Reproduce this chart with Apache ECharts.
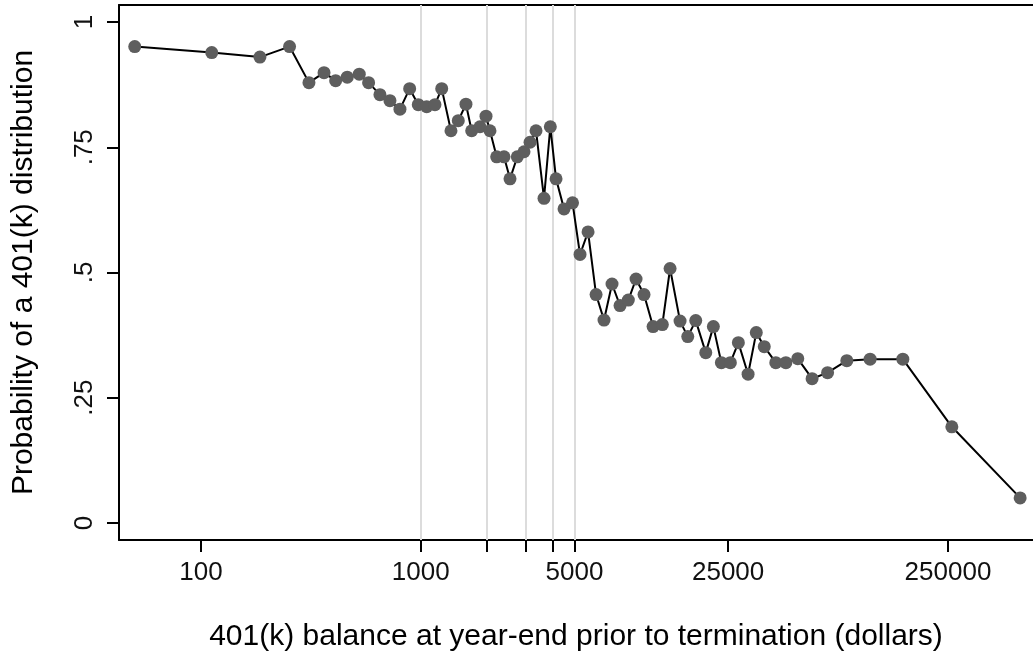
<!DOCTYPE html>
<html>
<head>
<meta charset="utf-8">
<script src="https://cdn.jsdelivr.net/npm/echarts@6/dist/echarts.min.js"></script>
<style>
html,body{margin:0;padding:0;background:#fff;}
#chart{width:1033px;height:661px;}
</style>
</head>
<body>
<div id="chart"></div>
<script>
// 401(k) balance (dollars), log scale
const balances = [50,112,185.5,253,310,363,410,463,525,579,
  652,724,804,890,974,1064,1160,1245,1372,1481,
  1605,1704,1859,1980,2064,2214,2391,2546,2748,2948,
  3140,3343,3635,3883,4123,4483,4900,5300,5765,6270,
  6815,7410,8060,8790,9530,10360,11390,12550,13610,15110,
  16380,17810,19780,21420,23290,25590,27830,30810,33570,36500,
  41180,45770,51840,60230,70840,86650,110600,155800,260300,532300];
// probability of a 401(k) distribution
const probabilities = [0.951,0.939,0.930,0.951,0.879,0.899,0.883,0.890,0.896,0.879,
  0.855,0.843,0.826,0.867,0.835,0.831,0.835,0.867,0.783,0.803,
  0.836,0.783,0.791,0.812,0.783,0.731,0.731,0.687,0.731,0.741,
  0.760,0.783,0.648,0.791,0.687,0.627,0.639,0.536,0.581,0.456,
  0.405,0.477,0.434,0.445,0.487,0.456,0.392,0.396,0.508,0.403,
  0.372,0.404,0.340,0.392,0.320,0.320,0.360,0.297,0.380,0.352,
  0.320,0.320,0.328,0.288,0.300,0.324,0.327,0.327,0.192,0.050];
const xLabelTicks = [100,1000,5000,25000,250000];
const xTickMarks = [100,1000,2000,3000,4000,5000,25000,250000];
const refLines = [1000,2000,3000,4000,5000];
const yTicks = [0,0.25,0.5,0.75,1];

const points = balances.map((b,i)=>[b, probabilities[i]]);
const font = '"Liberation Sans", Arial, Helvetica, sans-serif';

const chart = echarts.init(document.getElementById('chart'), null, {renderer:'canvas'});
chart.setOption({
  animation:false,
  backgroundColor:'#ffffff',
  grid:{left:119, right:0, top:5, bottom:121, containLabel:false},
  xAxis:[{
    type:'log', logBase:10, min:42.4, max:609000, position:'bottom',
    name:'401(k) balance at year-end prior to termination (dollars)',
    nameLocation:'middle', nameGap:82,
    nameTextStyle:{fontFamily:font, fontSize:30, color:'#000'},
    axisLine:{show:true, onZero:false, lineStyle:{color:'#000', width:2}},
    axisTick:{show:true, length:12, lineStyle:{color:'#000', width:2}, customValues:xTickMarks},
    axisLabel:{show:true, fontFamily:font, fontSize:26, color:'#111', margin:20,
      customValues:xLabelTicks, formatter:(v)=>String(Math.round(v))},
    splitLine:{show:false}, minorTick:{show:false}, minorSplitLine:{show:false}
  },{
    type:'log', logBase:10, min:42.4, max:609000, position:'top',
    axisLine:{show:true, onZero:false, lineStyle:{color:'#000', width:2}},
    axisTick:{show:false}, axisLabel:{show:false}, splitLine:{show:false}
  }],
  yAxis:{
    type:'value', min:-0.034, max:1.034,
    name:'Probability of a 401(k) distribution',
    nameLocation:'middle', nameGap:80, nameRotate:90,
    nameTextStyle:{fontFamily:font, fontSize:30, color:'#000'},
    axisLine:{show:true, onZero:false, lineStyle:{color:'#000', width:2}},
    axisTick:{show:true, length:12, lineStyle:{color:'#000', width:2}, customValues:yTicks},
    axisLabel:{show:true, rotate:90, fontFamily:font, fontSize:26, color:'#111', margin:21,
      customValues:yTicks,
      formatter:(v)=>{ if (Math.abs(v)<1e-9) return '0'; if (Math.abs(v-1)<1e-9) return '1'; return String(v).replace(/^0/,''); }},
    splitLine:{show:false}
  },
  series:[
    {
      type:'line', data:[], z:1, silent:true,
      markLine:{
        silent:true, symbol:['none','none'], animation:false,
        label:{show:false},
        lineStyle:{color:'#dcdcdc', width:2, type:'solid'},
        data: refLines.map(v=>({xAxis:v}))
      }
    },
    {
      type:'line', data:points, z:5,
      symbol:'circle', symbolSize:13, showSymbol:true,
      itemStyle:{color:'#5e5e5e', borderWidth:0},
      lineStyle:{color:'#000', width:2},
      emphasis:{disabled:true}
    }
  ]
});
</script>
</body>
</html>
